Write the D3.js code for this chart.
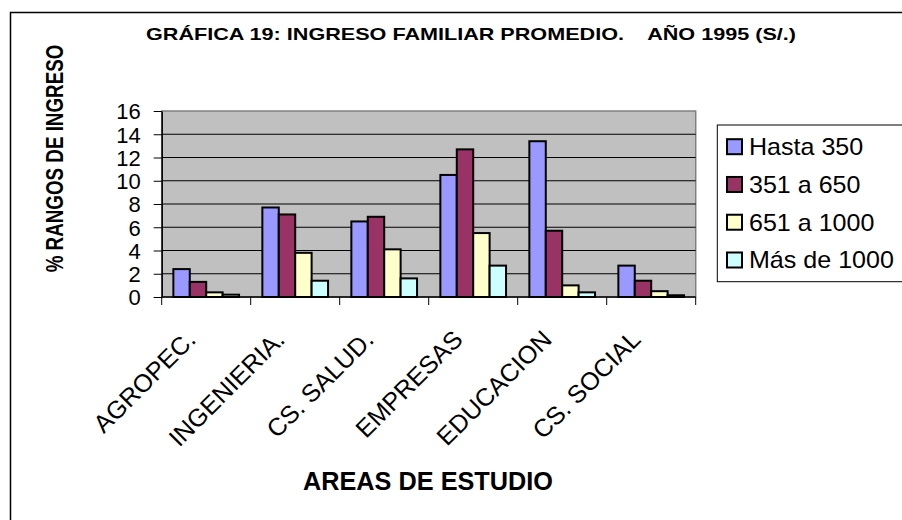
<!DOCTYPE html>
<html>
<head>
<meta charset="utf-8">
<script src="https://cdn.jsdelivr.net/npm/d3@7"></script>
<style>
html,body{margin:0;padding:0;background:#fff;}
svg{display:block;font-family:Arial,"Liberation Sans",sans-serif;}
</style>
</head>
<body>
<svg id="chart" width="902" height="520"></svg>
<script>
const categories = ["AGROPEC.", "INGENIERIA.", "CS. SALUD.", "EMPRESAS", "EDUCACION", "CS. SOCIAL"];
const seriesNames = ["Hasta 350", "351 a 650", "651 a 1000", "Más de 1000"];
const hasta350 = [2.4, 7.7, 6.5, 10.5, 13.4, 2.7];
const r351a650 = [1.3, 7.1, 6.9, 12.7, 5.7, 1.4];
const r651a1000 = [0.4, 3.8, 4.1, 5.5, 1.0, 0.5];
const masDe1000 = [0.2, 1.4, 1.6, 2.7, 0.4, 0.15];
const yTicks = [0, 2, 4, 6, 8, 10, 12, 14, 16];
const colors = ["#9999FF", "#993366", "#FFFFCC", "#CCFFFF"];
const seriesValues = [hasta350, r351a650, r651a1000, masDe1000];

const svg = d3.select("#chart");
const plot = {left: 161.7, right: 695.7, top: 111, bottom: 297};

// outer frame
svg.append("rect").attr("x", 10.5).attr("y", 12.5).attr("width", 1000).attr("height", 1000)
  .attr("fill", "none").attr("stroke", "#000").attr("stroke-width", 1.5);

const x0 = d3.scaleBand().domain(categories).range([plot.left, plot.right]).paddingInner(0.262).paddingOuter(0.131);
const x1 = d3.scaleBand().domain(seriesNames).range([0, x0.bandwidth()]);
const y = d3.scaleLinear().domain([0, 16]).range([plot.bottom, plot.top]);

// plot background
svg.append("rect").attr("x", plot.left).attr("y", plot.top)
  .attr("width", plot.right - plot.left).attr("height", plot.bottom - plot.top)
  .attr("fill", "#C0C0C0").attr("stroke", "#808080").attr("stroke-width", 1.5);

// gridlines
svg.append("g").selectAll("line").data(yTicks.filter(d => d > 0 && d < 16)).join("line")
  .attr("x1", plot.left).attr("x2", plot.right)
  .attr("y1", d => y(d)).attr("y2", d => y(d))
  .attr("stroke", "#000").attr("stroke-width", 1);

// bars
const groups = svg.append("g").selectAll("g").data(categories).join("g")
  .attr("transform", d => `translate(${x0(d)},0)`);
groups.selectAll("rect").data((c, i) => seriesNames.map((s, j) => ({s, v: seriesValues[j][i], j})))
  .join("rect")
  .attr("x", d => x1(d.s)).attr("width", x1.bandwidth())
  .attr("y", d => y(d.v)).attr("height", d => y(0) - y(d.v))
  .attr("fill", d => colors[d.j]).attr("stroke", "#000").attr("stroke-width", 2);

// y axis
const yAxis = d3.axisLeft(y).tickValues(yTicks).tickSize(8).tickPadding(13).tickSizeOuter(0);
const yg = svg.append("g").attr("transform", `translate(${plot.left},0)`).call(yAxis);
yg.select(".domain").attr("stroke", "#000").attr("stroke-width", 1.5);
yg.selectAll(".tick line").attr("stroke", "#000").attr("stroke-width", 1);
yg.selectAll(".tick text").attr("font-size", 22).attr("fill", "#000").attr("dy", "0.36em")
  .attr("font-family", "Arial, 'Liberation Sans', sans-serif");

// x axis
const xBoundary = d3.scaleLinear().domain([0, categories.length]).range([plot.left, plot.right]);
const xg = svg.append("g");
xg.append("line").attr("x1", plot.left).attr("x2", plot.right).attr("y1", plot.bottom).attr("y2", plot.bottom)
  .attr("stroke", "#000").attr("stroke-width", 1.5);
xg.selectAll("line.tk").data(d3.range(categories.length + 1)).join("line").attr("class", "tk")
  .attr("x1", d => xBoundary(d)).attr("x2", d => xBoundary(d))
  .attr("y1", plot.bottom).attr("y2", plot.bottom + 8)
  .attr("stroke", "#000").attr("stroke-width", 1);
xg.selectAll("text").data(categories).join("text")
  .attr("transform", d => `translate(${x0(d) + x0.bandwidth() / 2 - 9},${plot.bottom + 44}) rotate(-45)`)
  .attr("text-anchor", "end").attr("font-size", 25).attr("fill", "#000")
  .text(d => d);

// titles
svg.append("text").attr("x", 471).attr("y", 40).attr("text-anchor", "middle")
  .attr("font-size", 17).attr("font-weight", "bold").attr("xml:space", "preserve")
  .style("white-space", "pre")
  .attr("textLength", 650).attr("lengthAdjust", "spacingAndGlyphs")
  .text("GRÁFICA 19: INGRESO FAMILIAR PROMEDIO.    AÑO 1995 (S/.)");

svg.append("text").attr("transform", "translate(63,158.5) scale(1.3,1) rotate(-90)").attr("text-anchor", "middle")
  .attr("font-size", 18.8).attr("font-weight", "bold")
  .text("% RANGOS DE INGRESO");

svg.append("text").attr("x", 428).attr("y", 490).attr("text-anchor", "middle")
  .attr("font-size", 25).attr("font-weight", "bold")
  .attr("textLength", 250).attr("lengthAdjust", "spacingAndGlyphs")
  .text("AREAS DE ESTUDIO");

// legend
const leg = svg.append("g");
leg.append("rect").attr("x", 717.3).attr("y", 125).attr("width", 300).attr("height", 156.7)
  .attr("fill", "#fff").attr("stroke", "#000").attr("stroke-width", 1);
const legY = d3.scalePoint().domain(seriesNames).range([146.7, 260]);
const li = leg.selectAll("g.item").data(seriesNames).join("g").attr("class", "item")
  .attr("transform", d => `translate(0,${legY(d)})`);
li.append("rect").attr("x", 727).attr("y", -7.5).attr("width", 15).attr("height", 15)
  .attr("fill", (d, i) => colors[i]).attr("stroke", "#000").attr("stroke-width", 2);
li.append("text").attr("transform", "translate(749,0) scale(1.09,1)").attr("dy", "0.36em").attr("font-size", 23)
  .text(d => d);
</script>
</body>
</html>
